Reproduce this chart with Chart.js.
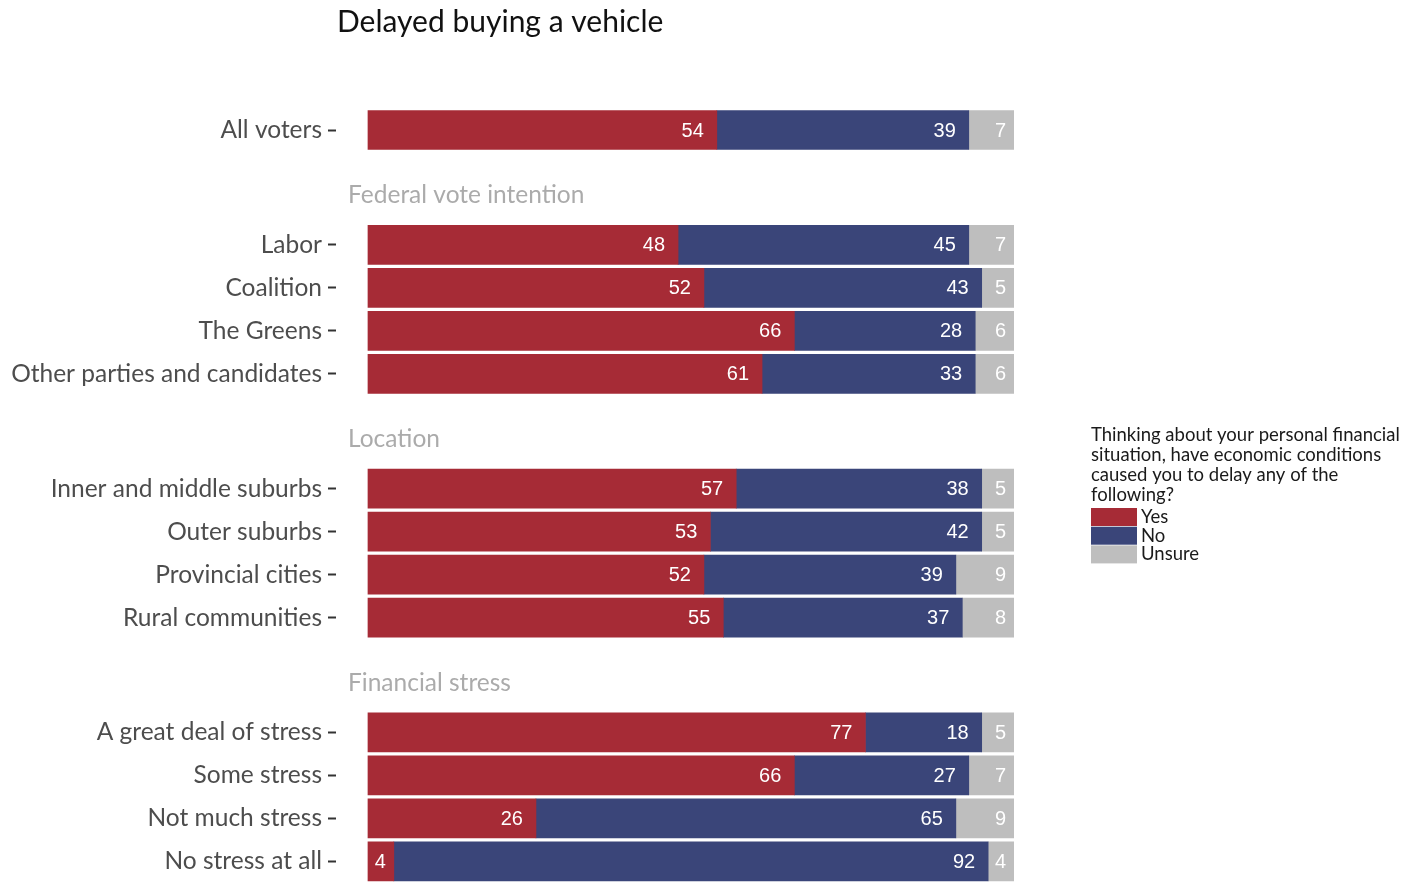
<!DOCTYPE html>
<html>
<head>
<meta charset="utf-8">
<script src="https://cdn.jsdelivr.net/npm/chart.js@4.4.0/dist/chart.umd.min.js"></script>
<style>
  html, body { margin: 0; padding: 0; background: #fff; }
  #wrap { width: 1414px; height: 882px; position: relative; }
</style>
</head>
<body>
<div id="wrap"><canvas id="chart"></canvas></div>
<script>
// 集計データ
const chartTitle = "Delayed buying a vehicle";
const legendTitle = [
  "Thinking about your personal financial",
  "situation, have economic conditions",
  "caused you to delay any of the",
  "following?"
];
const groupNames = ["", "Federal vote intention", "Location", "Financial stress"];
const categories = [
  "All voters",
  "Labor", "Coalition", "The Greens", "Other parties and candidates",
  "Inner and middle suburbs", "Outer suburbs", "Provincial cities", "Rural communities",
  "A great deal of stress", "Some stress", "Not much stress", "No stress at all"
];
const groupOf = [0, 1, 1, 1, 1, 2, 2, 2, 2, 3, 3, 3, 3];
const seriesNames = ["Yes", "No", "Unsure"];
const yesValues    = [54, 48, 52, 66, 61, 57, 53, 52, 55, 77, 66, 26, 4];
const noValues     = [39, 45, 43, 28, 33, 38, 42, 39, 37, 18, 27, 65, 92];
const unsureValues = [7, 7, 5, 6, 6, 5, 5, 9, 8, 5, 7, 9, 4];

const colors = ["#a62b36", "#3a4579", "#bebebe"];
const GROUP_GAP = 1.67;   // グループ間の余白(行単位)
const HEADER_OFFSET = 1.15;

// 行の位置(グループごとに余白を入れる)
const rowPos = categories.map((c, i) => i + groupOf[i] * GROUP_GAP);

const UI_FONT = "Lato, 'Noto Sans', sans-serif";

const datasets = [yesValues, noValues, unsureValues].map((vals, k) => ({
  label: seriesNames[k],
  data: vals.map((v, i) => ({ x: v, y: rowPos[i] })),
  backgroundColor: colors[k],
  borderWidth: 0,
  barThickness: 39
}));

// 値ラベル・見出し・凡例の描画
const decorPlugin = {
  id: "decor",
  afterDatasetsDraw(chart) {
    const ctx = chart.ctx;
    ctx.save();
    ctx.font = "20px 'Liberation Sans', Arial, sans-serif";
    ctx.fillStyle = "#ffffff";
    ctx.textAlign = "right";
    ctx.textBaseline = "middle";
    chart.data.datasets.forEach((ds, k) => {
      const meta = chart.getDatasetMeta(k);
      meta.data.forEach((bar, i) => {
        const txt = String(ds.data[i].x);
        const right = bar.x - 3 - 5 * txt.length;
        ctx.fillText(txt, right, bar.y + 1);
      });
    });
    ctx.restore();
  },
  afterDraw(chart) {
    const ctx = chart.ctx;
    const area = chart.chartArea;
    const yScale = chart.scales.y;
    ctx.save();

    // タイトル
    ctx.fillStyle = "#111";
    ctx.font = "30px " + UI_FONT;
    ctx.textAlign = "left";
    ctx.textBaseline = "middle";
    ctx.fillText(chartTitle, area.left + 1, 22);

    // グループ見出し
    ctx.fillStyle = "#ababab";
    ctx.font = "24.5px " + UI_FONT;
    groupNames.forEach((name, g) => {
      if (!name) return;
      const first = groupOf.indexOf(g);
      const y = yScale.getPixelForValue(rowPos[first] - HEADER_OFFSET);
      ctx.fillText(name, area.left + 12, y);
    });

    // 凡例
    const lx = 1091;
    ctx.fillStyle = "#1a1a1a";
    ctx.font = "18.5px " + UI_FONT;
    legendTitle.forEach((line, j) => {
      ctx.fillText(line, lx, 435 + j * 20);
    });
    seriesNames.forEach((name, k) => {
      const top = 508 + k * 18.7;
      ctx.fillStyle = colors[k];
      ctx.fillRect(lx, top, 46, 18);
      ctx.fillStyle = "#1a1a1a";
      ctx.fillText(name, lx + 50, top + 9);
    });
    ctx.restore();
  }
};

new Chart(document.getElementById("chart"), {
  type: "bar",
  data: { datasets: datasets },
  options: {
    indexAxis: "y",
    responsive: true,
    maintainAspectRatio: false,
    animation: false,
    layout: { padding: { top: 60, right: 400, bottom: 0, left: 0 } },
    scales: {
      x: {
        type: "linear",
        stacked: true,
        min: -4.95,
        max: 100,
        display: false
      },
      y: {
        type: "linear",
        stacked: true,
        reverse: true,
        offset: false,
        min: -70 / 43,
        max: 17 + 21 / 43,
        afterBuildTicks(scale) {
          scale.ticks = rowPos.map(v => ({ value: v }));
        },
        afterFit(scale) {
          scale.width = 336;
          scale.paddingTop = 0;
          scale.paddingBottom = 0;
        },
        border: { display: false },
        grid: {
          offset: false,
          drawOnChartArea: false,
          drawTicks: true,
          tickLength: 8,
          tickColor: "#333",
          tickWidth: 2
        },
        ticks: {
          padding: 6,
          color: "#4d4d4d",
          font: { family: UI_FONT, size: 24.5 },
          callback: (value, index) => categories[index]
        }
      }
    },
    plugins: {
      legend: { display: false },
      tooltip: { enabled: false },
      title: { display: false }
    }
  },
  plugins: [decorPlugin]
});
</script>
</body>
</html>
